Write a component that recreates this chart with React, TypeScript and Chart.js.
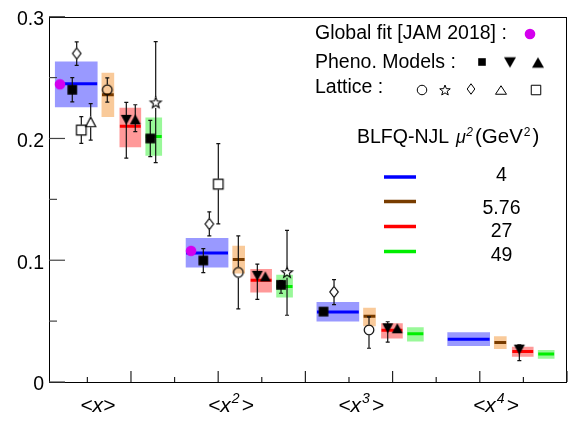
import React, { useEffect, useRef } from 'react';
import { Chart, registerables } from 'chart.js';

Chart.register(...registerables);

// ---------------- categories / axes ----------------
const MOMENT_POWERS = ['', '2', '3', '4']; // <x>, <x^2>, <x^3>, <x^4>
const MOMENT_LABEL_X = [1.24, 4.29, 7.28, 10.37];
const GROUP_STEP = 3;
const X_MIN = 0.12;
const X_MAX = 12;
const Y_MIN = 0;
const Y_MAX = 0.3;
const Y_TICK_STEP = 0.1;

// ---------------- BLFQ-NJL bands (mu^2 = 4, 5.76, 27, 49 GeV^2) ----------------
const MU2_LABELS = ['4', '5.76', '27', '49'];
const BLFQ_MU4 = [0.245, 0.106, 0.0575, 0.0351];
const BLFQ_MU4_LO = [0.226, 0.0944, 0.05, 0.0298];
const BLFQ_MU4_HI = [0.263, 0.118, 0.0654, 0.0405];
const BLFQ_MU576 = [0.236, 0.1006, 0.054, 0.0325];
const BLFQ_MU576_LO = [0.218, 0.0894, 0.046, 0.0274];
const BLFQ_MU576_HI = [0.2538, 0.1117, 0.0607, 0.0373];
const BLFQ_MU27 = [0.21, 0.0835, 0.0425, 0.025];
const BLFQ_MU27_LO = [0.193, 0.0737, 0.036, 0.021];
const BLFQ_MU27_HI = [0.225, 0.0926, 0.048, 0.0287];
const BLFQ_MU49 = [0.2017, 0.0785, 0.0397, 0.0229];
const BLFQ_MU49_LO = [0.186, 0.0697, 0.0335, 0.0194];
const BLFQ_MU49_HI = [0.217, 0.0878, 0.0447, 0.026];

// ---------------- Global fit [JAM 2018] ----------------
const JAM_X = [0.372, 3.377];
const JAM_Y = [0.2445, 0.1077];

// ---------------- Pheno. models ----------------
const PHENO_SQ_X = [0.654, 3.659, 6.416];
const PHENO_SQ_Y = [0.24, 0.0998, 0.0578];
const PHENO_SQ_ERR_UP = [0.01, 0.0098, 0];
const PHENO_SQ_ERR_DN = [0.01, 0.0099, 0];

const PHENO_DN_X = [1.893, 4.898, 7.888, 10.907];
const PHENO_DN_Y = [0.2153, 0.0872, 0.0441, 0.0266];
const PHENO_DN_ERR_UP = [0.0143, 0.0096, 0.0054, 0.004];
const PHENO_DN_ERR_DN = [0.0315, 0.0194, 0.0114, 0.009];

const PHENO_UP_X = [2.099, 5.081, 8.108];
const PHENO_UP_Y = [0.2157, 0.0867, 0.0441];
const PHENO_UP_ERR_UP = [0.012, 0, 0];
const PHENO_UP_ERR_DN = [0.01, 0, 0];

const PHENO_SQ2_X = [2.443, 5.441];
const PHENO_SQ2_Y = [0.2, 0.0798];
const PHENO_SQ2_ERR_UP = [0.0149, 0.0034];
const PHENO_SQ2_ERR_DN = [0.0149, 0.0069];

// ---------------- Lattice ----------------
const LAT_CIRC_X = [1.457, 4.462, 7.459];
const LAT_CIRC_Y = [0.24, 0.09, 0.0428];
const LAT_CIRC_ERR_UP = [0.0098, 0.03, 0.0107];
const LAT_CIRC_ERR_DN = [0.0102, 0.03, 0.0151];

const LAT_STAR_X = [2.567, 5.579];
const LAT_STAR_Y = [0.2296, 0.0902];
const LAT_STAR_ERR_UP = [0.05, 0.0343];
const LAT_STAR_ERR_DN = [0.0495, 0.0354];

const LAT_DIAM_X = [0.755, 3.797, 6.657];
const LAT_DIAM_Y = [0.2698, 0.1298, 0.074];
const LAT_DIAM_ERR_UP = [0.0095, 0.0099, 0.01];
const LAT_DIAM_ERR_DN = [0.0098, 0.0098, 0.0104];

const LAT_TRI_X = [1.076];
const LAT_TRI_Y = [0.2136];
const LAT_TRI_ERR_UP = [0.015];
const LAT_TRI_ERR_DN = [0.015];

const LAT_SQ_X = [0.861, 4.003];
const LAT_SQ_Y = [0.2069, 0.1625];
const LAT_SQ_ERR_UP = [0.0111, 0.0333];
const LAT_SQ_ERR_DN = [0.0109, 0.0327];

// ---------------- layout / style (not data) ----------------
const BAND_LEFT = [0.265, 1.335, 1.745, 2.34];
const BAND_RIGHT = [1.225, 1.605, 2.225, 2.705];
const BAND_PX = [42, 12, 21, 16];
const BAND_FILL = ['#9999ff', '#f9ca9a', '#ff9999', '#99f899'];
const BAND_LINE = ['#0000ff', '#783c00', '#ff0000', '#00ee00'];
const MAGENTA = '#d400ee';
const FONT = "'Liberation Sans', Arial, Helvetica, sans-serif";

function makeMarker(kind: string, w: number, h: number, lw: number, color: string) {
  const pad = 2;
  const c = document.createElement('canvas');
  let cw = Math.ceil(w + 2 * pad);
  let ch = Math.ceil(h + 2 * pad);
  if (cw % 2) cw++;
  if (ch % 2) ch++;
  c.width = cw;
  c.height = ch;
  const g = c.getContext('2d') as CanvasRenderingContext2D;
  const cx = cw / 2;
  const cy = ch / 2;
  g.lineWidth = lw;
  g.strokeStyle = color;
  g.fillStyle = color;
  g.lineJoin = 'miter';
  g.beginPath();
  if (kind === 'triDown' || kind === 'triDownOpen') {
    g.moveTo(cx - w / 2, cy - h / 2);
    g.lineTo(cx + w / 2, cy - h / 2);
    g.lineTo(cx, cy + h / 2);
    g.closePath();
  } else if (kind === 'triUp' || kind === 'triUpOpen') {
    g.moveTo(cx - w / 2, cy + h / 2);
    g.lineTo(cx + w / 2, cy + h / 2);
    g.lineTo(cx, cy - h / 2);
    g.closePath();
  } else if (kind === 'diamondOpen') {
    g.moveTo(cx, cy - h / 2);
    g.lineTo(cx + w / 2, cy);
    g.lineTo(cx, cy + h / 2);
    g.lineTo(cx - w / 2, cy);
    g.closePath();
  } else if (kind === 'starOpen') {
    const R = h / 1.809;
    const r = R * 0.42;
    const off = (R - 0.809 * R) / 2;
    for (let k = 0; k < 10; k++) {
      const a = -Math.PI / 2 + (k * Math.PI) / 5;
      const rr = k % 2 === 0 ? R : r;
      const px = cx + rr * Math.cos(a);
      const py = cy + off + rr * Math.sin(a);
      if (k === 0) g.moveTo(px, py);
      else g.lineTo(px, py);
    }
    g.closePath();
  } else if (kind === 'square' || kind === 'squareOpen') {
    g.rect(cx - w / 2, cy - h / 2, w, h);
  } else {
    g.ellipse(cx, cy, w / 2, h / 2, 0, 0, Math.PI * 2);
  }
  if (kind.endsWith('Open')) g.stroke();
  else g.fill();
  return c;
}

export default function App() {
  const ref = useRef<HTMLCanvasElement | null>(null);

  useEffect(() => {
    document.body.style.margin = '0';
    const canvas = ref.current;
    if (!canvas) return;

    const bandVals = [BLFQ_MU4, BLFQ_MU576, BLFQ_MU27, BLFQ_MU49];
    const bandLo = [BLFQ_MU4_LO, BLFQ_MU576_LO, BLFQ_MU27_LO, BLFQ_MU49_LO];
    const bandHi = [BLFQ_MU4_HI, BLFQ_MU576_HI, BLFQ_MU27_HI, BLFQ_MU49_HI];

    const markers = [
      { kind: 'triDown', w: 11, h: 10, lw: 0, color: '#000', gap: 0, xs: PHENO_DN_X, ys: PHENO_DN_Y, up: PHENO_DN_ERR_UP, dn: PHENO_DN_ERR_DN },
      { kind: 'triUp', w: 11, h: 10, lw: 0, color: '#000', gap: 0, xs: PHENO_UP_X, ys: PHENO_UP_Y, up: PHENO_UP_ERR_UP, dn: PHENO_UP_ERR_DN },
      { kind: 'square', w: 9.7, h: 9.7, lw: 0, color: '#000', gap: 0, xs: PHENO_SQ_X, ys: PHENO_SQ_Y, up: PHENO_SQ_ERR_UP, dn: PHENO_SQ_ERR_DN },
      { kind: 'square', w: 9.7, h: 9.7, lw: 0, color: '#000', gap: 0, xs: PHENO_SQ2_X, ys: PHENO_SQ2_Y, up: PHENO_SQ2_ERR_UP, dn: PHENO_SQ2_ERR_DN },
      { kind: 'circleOpen', w: 9.6, h: 9.6, lw: 1.2, color: '#000', gap: 5.3, xs: LAT_CIRC_X, ys: LAT_CIRC_Y, up: LAT_CIRC_ERR_UP, dn: LAT_CIRC_ERR_DN },
      { kind: 'starOpen', w: 12, h: 10.5, lw: 1.1, color: '#000', gap: 5.5, xs: LAT_STAR_X, ys: LAT_STAR_Y, up: LAT_STAR_ERR_UP, dn: LAT_STAR_ERR_DN },
      { kind: 'diamondOpen', w: 8.4, h: 11, lw: 1.2, color: '#000', gap: 5.8, xs: LAT_DIAM_X, ys: LAT_DIAM_Y, up: LAT_DIAM_ERR_UP, dn: LAT_DIAM_ERR_DN },
      { kind: 'triUpOpen', w: 10, h: 9.5, lw: 1.2, color: '#000', gap: 5.3, xs: LAT_TRI_X, ys: LAT_TRI_Y, up: LAT_TRI_ERR_UP, dn: LAT_TRI_ERR_DN },
      { kind: 'squareOpen', w: 9.6, h: 9.6, lw: 1.2, color: '#000', gap: 5.3, xs: LAT_SQ_X, ys: LAT_SQ_Y, up: LAT_SQ_ERR_UP, dn: LAT_SQ_ERR_DN },
      { kind: 'circle', w: 10.6, h: 10.6, lw: 0, color: MAGENTA, gap: 0, xs: JAM_X, ys: JAM_Y, up: null as any, dn: null as any },
    ];

    const datasets: any[] = [];
    // bands (floating bars)
    bandVals.forEach((vals, k) => {
      datasets.push({
        type: 'bar',
        data: vals.map((_, i) => ({
          x: i * GROUP_STEP + (BAND_LEFT[k] + BAND_RIGHT[k]) / 2,
          y: [bandLo[k][i], bandHi[k][i]],
        })),
        backgroundColor: BAND_FILL[k],
        borderWidth: 0,
        barThickness: BAND_PX[k],
        grouped: false,
        order: 3,
      });
    });
    // central lines
    bandVals.forEach((vals, k) => {
      const pts: any[] = [];
      vals.forEach((v, i) => {
        const base = i * GROUP_STEP;
        pts.push({ x: base + BAND_LEFT[k], y: v });
        pts.push({ x: base + BAND_RIGHT[k], y: v });
        pts.push({ x: base + BAND_RIGHT[k] + 0.02, y: null });
      });
      datasets.push({
        type: 'line',
        data: pts,
        borderColor: BAND_LINE[k],
        borderWidth: 3,
        borderCapStyle: 'butt',
        pointRadius: 0,
        spanGaps: false,
        tension: 0,
        fill: false,
        order: 2,
      });
    });
    // markers
    markers.forEach((m) => {
      const img = makeMarker(m.kind, m.w, m.h, m.lw, m.color);
      datasets.push({
        type: 'scatter',
        data: m.xs.map((x, i) => ({ x, y: m.ys[i] })),
        pointStyle: img,
        pointRadius: 5,
        showLine: false,
        order: 1,
        isMarker: true,
      });
    });

    const drawErrorBars = (chart: any) => {
      const ctx = chart.ctx as CanvasRenderingContext2D;
      const xs = chart.scales.x;
      const ys = chart.scales.y;
      ctx.save();
      ctx.strokeStyle = '#111';
      ctx.lineWidth = 1.2;
      markers.forEach((m) => {
        if (!m.up) return;
        m.xs.forEach((xv, i) => {
          const eu = m.up[i] || 0;
          const ed = m.dn[i] || 0;
          if (!eu && !ed) return;
          const px = xs.getPixelForValue(xv);
          const py = ys.getPixelForValue(m.ys[i]);
          const top = ys.getPixelForValue(m.ys[i] + eu);
          const bot = ys.getPixelForValue(m.ys[i] - ed);
          ctx.beginPath();
          if (top < py - m.gap) {
            ctx.moveTo(px, top);
            ctx.lineTo(px, py - m.gap);
            ctx.moveTo(px - 2, top);
            ctx.lineTo(px + 2, top);
          }
          if (bot > py + m.gap) {
            ctx.moveTo(px, py + m.gap);
            ctx.lineTo(px, bot);
            ctx.moveTo(px - 2, bot);
            ctx.lineTo(px + 2, bot);
          }
          ctx.stroke();
        });
      });
      ctx.restore();
    };

    const legendImgs = {
      jam: makeMarker('circle', 10.6, 10.6, 0, MAGENTA),
      sq: makeMarker('square', 7.6, 7.6, 0, '#000'),
      dn: makeMarker('triDown', 12, 10.5, 0, '#000'),
      up: makeMarker('triUp', 12, 10.5, 0, '#000'),
      circ: makeMarker('circleOpen', 9.5, 9.5, 1, '#000'),
      star: makeMarker('starOpen', 10.5, 10, 1, '#000'),
      diam: makeMarker('diamondOpen', 7.6, 10.5, 1, '#000'),
      tri: makeMarker('triUpOpen', 11, 8.5, 1, '#000'),
      osq: makeMarker('squareOpen', 9.5, 9.5, 1, '#000'),
    };

    const putImg = (ctx: CanvasRenderingContext2D, img: HTMLCanvasElement, x: number, y: number) => {
      ctx.drawImage(img, x - img.width / 2, y - img.height / 2);
    };

    const decor = {
      id: 'decor',
      beforeDatasetsDraw(chart: any) {
        chart.$errDone = false;
      },
      beforeDatasetDraw(chart: any, args: any) {
        const ds = chart.data.datasets[args.index];
        if (ds.isMarker && !chart.$errDone) {
          chart.$errDone = true;
          drawErrorBars(chart);
        }
      },
      afterDraw(chart: any) {
        const ctx = chart.ctx as CanvasRenderingContext2D;
        const ca = chart.chartArea;
        const xs = chart.scales.x;
        const ys = chart.scales.y;
        ctx.save();
        // frame
        ctx.strokeStyle = '#000';
        ctx.lineWidth = 1;
        ctx.strokeRect(Math.round(ca.left) + 0.5, Math.round(ca.top) + 0.5, Math.round(ca.right - ca.left) - 1, Math.round(ca.bottom - ca.top));
        // y ticks (inward)
        ctx.strokeStyle = '#444';
        ctx.lineWidth = 1.2;
        for (let k = 0; k <= Math.round((Y_MAX - Y_MIN) / (Y_TICK_STEP / 2)); k++) {
          const v = Y_MIN + (k * Y_TICK_STEP) / 2;
          const py = ys.getPixelForValue(v);
          const len = k % 2 === 0 ? 16 : 8;
          ctx.beginPath();
          ctx.moveTo(ca.left, py);
          ctx.lineTo(ca.left + len, py);
          ctx.stroke();
        }
        // x ticks (inward)
        ctx.strokeStyle = '#222';
        for (let t = 1; t <= X_MAX; t++) {
          const px = xs.getPixelForValue(t);
          const len = t % 2 === 0 ? 11 : 5;
          ctx.beginPath();
          ctx.moveTo(px, ca.bottom);
          ctx.lineTo(px, ca.bottom - len);
          ctx.stroke();
        }
        // x category labels
        ctx.fillStyle = '#000';
        ctx.textBaseline = 'alphabetic';
        ctx.textAlign = 'left';
        const mainFont = `italic 21px ${FONT}`;
        const supFont = `italic 14px ${FONT}`;
        MOMENT_POWERS.forEach((p, i) => {
          const cx = xs.getPixelForValue(MOMENT_LABEL_X[i]);
          const base = ca.bottom + 30;
          ctx.font = mainFont;
          const w1 = ctx.measureText('<x').width;
          const w3 = ctx.measureText('>').width;
          ctx.font = supFont;
          const w2 = p ? ctx.measureText(p).width + 3 : 0;
          let x = cx - (w1 + w2 + w3) / 2;
          ctx.font = mainFont;
          ctx.fillText('<x', x, base);
          x += w1;
          if (p) {
            ctx.font = supFont;
            ctx.fillText(p, x + 1, base - 9);
            x += w2;
          }
          ctx.font = mainFont;
          ctx.fillText('>', x, base);
        });
        // legend
        ctx.font = `19.5px ${FONT}`;
        ctx.fillText('Global fit [JAM 2018] :', 315, 39);
        ctx.fillText('Pheno. Models :', 315, 68);
        ctx.fillText('Lattice :', 315, 93);
        ctx.fillText('BLFQ-NJL', 357, 142.5);
        ctx.font = `italic 18px ${FONT}`;
        ctx.fillText('\u03bc', 456, 142.5);
        const muW = ctx.measureText('\u03bc').width;
        ctx.font = `italic 12px ${FONT}`;
        ctx.fillText('2', 456 + muW + 0.5, 136);
        ctx.font = `20.5px ${FONT}`;
        ctx.fillText('(GeV', 475, 142.5);
        let gx = 475 + ctx.measureText('(GeV').width;
        ctx.font = `12px ${FONT}`;
        ctx.fillText('2', gx + 1, 136);
        gx += ctx.measureText('2').width + 3;
        ctx.font = `20.5px ${FONT}`;
        ctx.fillText(')', gx, 142.5);

        putImg(ctx, legendImgs.jam, 530, 34);
        putImg(ctx, legendImgs.sq, 482, 62);
        putImg(ctx, legendImgs.dn, 510, 62.5);
        putImg(ctx, legendImgs.up, 538, 62.5);
        putImg(ctx, legendImgs.circ, 422, 90);
        putImg(ctx, legendImgs.star, 445, 90);
        putImg(ctx, legendImgs.diam, 471, 89);
        putImg(ctx, legendImgs.tri, 501, 90);
        putImg(ctx, legendImgs.osq, 536, 90);

        const lineY = [177, 201.5, 226.5, 251.5];
        const numBase = [181, 213.5, 237, 261];
        ctx.textAlign = 'center';
        MU2_LABELS.forEach((lab, k) => {
          ctx.strokeStyle = BAND_LINE[k];
          ctx.lineWidth = 3.5;
          ctx.beginPath();
          ctx.moveTo(384, lineY[k]);
          ctx.lineTo(416, lineY[k]);
          ctx.stroke();
          ctx.fillStyle = '#000';
          ctx.font = `19.5px ${FONT}`;
          ctx.fillText(lab, 501.5, numBase[k]);
        });
        ctx.restore();
      },
    };

    const chart = new Chart(canvas, {
      type: 'scatter',
      data: { datasets },
      options: {
        responsive: false,
        animation: false,
        events: [],
        layout: { padding: { top: 6, right: 13, left: 0, bottom: 0 } },
        plugins: { legend: { display: false }, tooltip: { enabled: false } },
        scales: {
          x: {
            type: 'linear',
            min: X_MIN,
            max: X_MAX,
            offset: false,
            grid: { display: false, offset: false },
            border: { display: false },
            ticks: { display: false },
            afterFit: (s: any) => {
              s.height = 42;
            },
          },
          y: {
            type: 'linear',
            min: Y_MIN,
            max: Y_MAX,
            grid: { display: false, drawTicks: false },
            border: { display: false },
            ticks: {
              stepSize: Y_TICK_STEP,
              padding: 5,
              labelOffset: 3,
              color: '#000',
              font: { family: FONT, size: 19.5 },
              callback: (v: any) => (Math.abs(Number(v)) < 1e-9 ? '0' : Number(v).toFixed(1)),
            },
            afterFit: (s: any) => {
              s.width = 49;
            },
          },
        },
      } as any,
      plugins: [decor as any],
    });

    return () => {
      chart.destroy();
    };
  }, []);

  return (
    <div style={{ position: 'absolute', left: 0, top: 0, width: 580, height: 424, background: '#fff' }}>
      <canvas ref={ref} width={580} height={424} style={{ display: 'block' }} />
    </div>
  );
}
